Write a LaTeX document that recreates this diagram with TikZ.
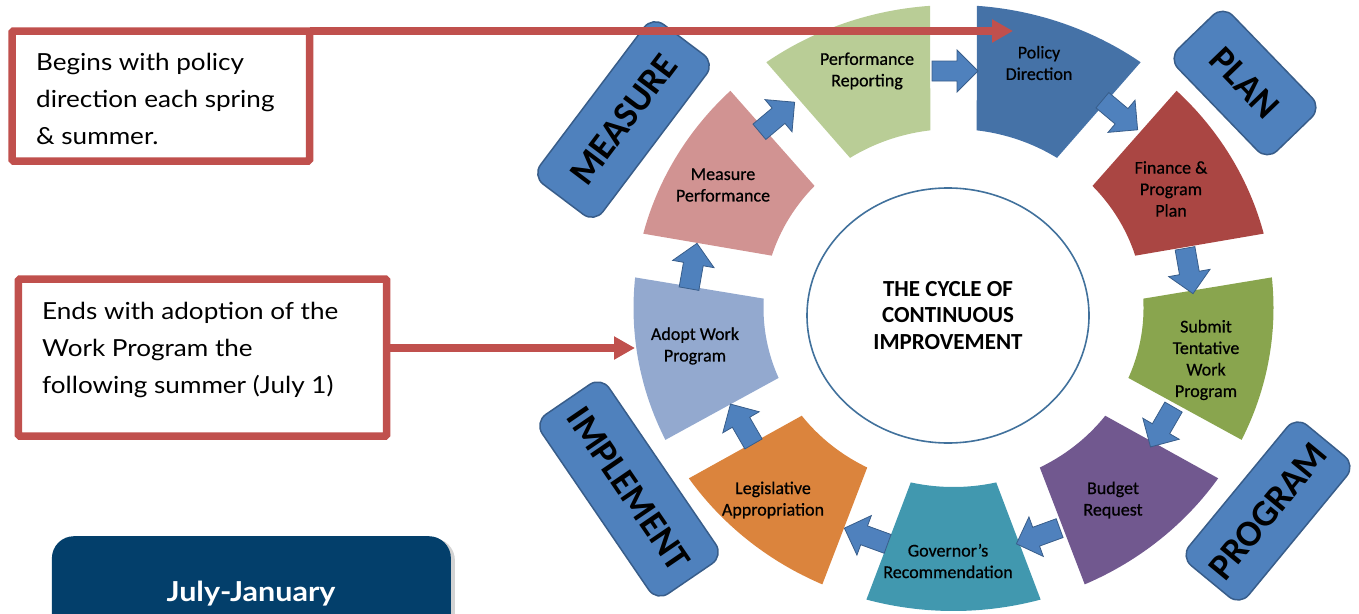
\documentclass[tikz,border=0pt]{standalone}
\usepackage{fontspec}
\setmainfont{Carlito}
\newfontfamily\segfont[FakeBold=0.6]{Carlito}
\newfontfamily\callfont[FakeStretch=1.11]{Lato}
\usetikzlibrary{shapes.geometric,arrows.meta,shadows}

\definecolor{cPol}{HTML}{4572A7}
\definecolor{cFin}{HTML}{AA4643}
\definecolor{cSub}{HTML}{89A54E}
\definecolor{cBud}{HTML}{71588F}
\definecolor{cGov}{HTML}{4198AF}
\definecolor{cLeg}{HTML}{DB843D}
\definecolor{cAdo}{HTML}{93A9CF}
\definecolor{cMea}{HTML}{D19392}
\definecolor{cPer}{HTML}{B9CD96}
\definecolor{labfill}{HTML}{4F81BD}
\definecolor{labdraw}{HTML}{385D8A}
\definecolor{callred}{HTML}{C0504D}
\definecolor{navy}{HTML}{033F6B}
\definecolor{ringblue}{HTML}{41719C}

\def\cx{953.5}\def\cy{308}
\def\Rx{320}\def\Ry{303}
\def\rx{190}\def\ry{179}
\def\go{4.2}\def\gi{7}

\newcommand{\cyclesegment}[2]{%
  \fill[#2] plot[domain=0:1, samples=40, variable=\t]
     ({\cx+\Rx*cos(#1-\go-(40-2*\go)*\t)}, {\cy-\Ry*sin(#1-\go-(40-2*\go)*\t)})
   -- plot[domain=0:1, samples=40, variable=\t]
     ({\cx+\rx*cos(#1-40+\gi+(40-2*\gi)*\t)}, {\cy-\ry*sin(#1-40+\gi+(40-2*\gi)*\t)})
   -- cycle;}

\newcommand{\blockarrow}[3]{%
  \draw[segarrow, shift={(#1,#2)}, rotate=#3]
    (-23,-10) -- (2,-10) -- (2,-21) -- (23,0) -- (2,21) -- (2,10) -- (-23,10) -- cycle;}

\begin{document}
\begin{tikzpicture}[x=1pt,y=-1pt,
  segtext/.style={font=\segfont\fontsize{18}{21.5}\selectfont, align=center, text=black, inner sep=0pt},
  phase/.style={draw=labdraw, fill=labfill, line width=1.5pt, rounded corners=14pt,
     font=\bfseries\fontsize{37}{40}\selectfont, text=black, inner sep=0pt},
  segarrow/.style={draw=labdraw, fill=labfill, line width=0.8pt, line join=miter},
  callbox/.style={draw=callred, line width=7.5pt, rounded corners=1.5pt, outer sep=0pt,
     inner sep=0pt, fill=white},
  calltext/.style={font=\callfont\fontsize{23.5}{37}\selectfont, align=left, inner sep=0pt, text=black},
  callline/.style={draw=callred, line width=7.5pt, -{Triangle[length=21pt,width=22pt]}}
]
\useasboundingbox (0,0) rectangle (1359,613);
\clip (0,0) rectangle (1359,613);

% phase labels
\node[phase, rotate=53, minimum width=200pt, minimum height=78pt] (measure) at (623.5,119.5) {MEASURE};
\node[phase, rotate=-46, minimum width=142pt, minimum height=76pt] (plan) at (1245,83) {PLAN};
\node[phase, rotate=50.5, minimum width=182pt, minimum height=77pt] (program) at (1268,511) {PROGRAM};
\node[phase, rotate=-55.7, minimum width=217pt, minimum height=81pt] (implement) at (629,489) {IMPLEMENT};

% ring segments
\cyclesegment{90}{cPol}
\cyclesegment{50}{cFin}
\cyclesegment{10}{cSub}
\cyclesegment{-30}{cBud}
\cyclesegment{-70}{cGov}
\cyclesegment{-110}{cLeg}
\cyclesegment{-150}{cAdo}
\cyclesegment{170}{cMea}
\cyclesegment{130}{cPer}

% segment texts
\node[segtext] (tper) at (867,71) {Performance\\Reporting};
\node[segtext] (tpol) at (1039,63) {Policy\\Direction};
\node[segtext] (tfin) at (1171,189) {Finance \&\\Program\\Plan};
\node[segtext] (tsub) at (1206,360) {Submit\\Tentative\\Work\\Program};
\node[segtext] (tbud) at (1113,500) {Budget\\Request};
\node[segtext] (tgov) at (948,561) {Governor’s\\Recommendation};
\node[segtext] (tleg) at (773,500) {Legislative\\Appropriation};
\node[segtext] (tado) at (695,346) {Adopt Work\\Program};
\node[segtext] (tmea) at (723,185) {Measure\\Performance};

% block arrows between segments
\blockarrow{955}{71}{0}
\blockarrow{1120}{115}{-40}
\blockarrow{1189}{271}{-80}
\blockarrow{1162}{427}{-120}
\blockarrow{1038}{536}{-160}
\blockarrow{866}{536}{160}
\blockarrow{742}{424}{120}
\blockarrow{693}{266}{80}
\blockarrow{777}{117}{40}

% centre
\node[ellipse, draw=ringblue, line width=1.6pt, fill=white, minimum width=282pt, minimum height=255pt,
      inner sep=0pt, align=center, font=\bfseries\fontsize{23}{26.7}\selectfont] (core) at (948,315.5)
      {THE CYCLE OF\\CONTINUOUS\\IMPROVEMENT};

% callouts
\node[callbox, anchor=north west, minimum width=297.5pt, minimum height=130pt] (box1) at (12,31) {};
\node[calltext, anchor=north west] (txt1) at (36,53) {Begins with policy\\direction each spring\\\& summer.};
\node[callbox, anchor=north west, minimum width=368.4pt, minimum height=157pt] (box2) at (18.3,279) {};
\node[calltext, anchor=north west] (txt2) at (42,301.7) {Ends with adoption of the\\Work Program the\\following summer (July 1)};
\coordinate (tip1) at (1013,31);
\coordinate (tip2) at (635,348);
\draw[callline] (box1.north east) -- (tip1);
\draw[callline] (box2.east |- tip2) -- (tip2);

% period box
\node[fill=navy, rounded corners=22pt, minimum width=399pt, minimum height=120pt, anchor=north west,
      inner sep=0pt, drop shadow={shadow xshift=4pt, shadow yshift=-2pt, opacity=0.35}] (period) at (51.7,536) {};
\node[anchor=base, text=white, font=\callfont\bfseries\fontsize{27.5}{30}\selectfont, inner sep=0pt] (tjuly) at (251,601.7) {July-January};
\end{tikzpicture}
\end{document}
